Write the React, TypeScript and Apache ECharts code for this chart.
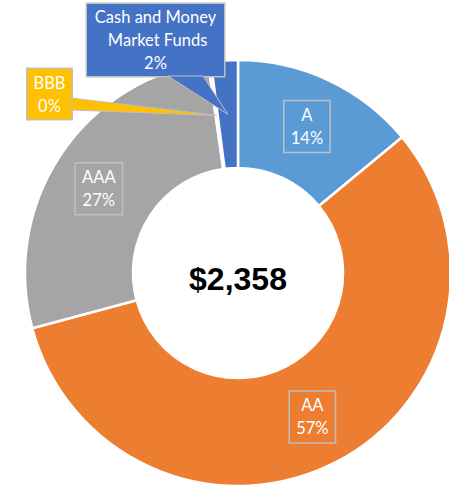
import React, { useEffect, useRef } from 'react';
import * as echarts from 'echarts';

const categories = ['A', 'AA', 'AAA', 'BBB', 'Cash and Money Market Funds'];
const values = [330, 1340, 635, 5, 48];
const colors = ['#5B9BD5', '#ED7D31', '#A5A5A5', '#FFC000', '#4472C4'];

const CX = 238;
const CY = 273;
const R0 = 105;
const R1 = 213;
const FONT = 'Lato';

export default function App() {
  const ref = useRef<HTMLDivElement>(null);
  useEffect(() => {
    const chart = echarts.init(ref.current!, null, { renderer: 'svg' });
    const total = values.reduce((a, b) => a + b, 0);
    const mids: number[] = [];
    let acc = 0;
    values.forEach((v) => {
      mids.push(((acc + v / 2) / total) * 2 * Math.PI);
      acc += v;
    });
    const rMid = (R0 + R1) / 2;
    const tip = (i: number) => [CX + rMid * Math.sin(mids[i]), CY - rMid * Math.cos(mids[i])];
    const bbbTip = tip(3);
    const cashTip = tip(4);

    const baseLabel = {
      show: true,
      position: 'inside',
      formatter: '{b}\n{d}%',
      color: '#FFFFFF',
      fontFamily: FONT,
      fontSize: 16.5,
      lineHeight: 23,
      align: 'center',
      borderColor: '#BFBFBF',
      borderWidth: 1.5,
      padding: [3, 7, 3, 7],
    };

    chart.setOption({
      animation: false,
      graphic: [
        {
          type: 'polygon',
          z: 100,
          shape: { points: [[71, 98], [71, 110], bbbTip] },
          style: { fill: '#FFC000', stroke: '#BFBFBF', lineWidth: 1 },
        },
        {
          type: 'polygon',
          z: 100,
          shape: { points: [[168, 76], [203, 76], cashTip] },
          style: { fill: '#4472C4', stroke: '#BFBFBF', lineWidth: 1 },
        },
        {
          type: 'text',
          z: 100,
          x: CX,
          y: 279,
          style: {
            text: '$' + total.toLocaleString('en-US'),
            align: 'center',
            verticalAlign: 'middle',
            fontFamily: 'Liberation Sans',
            fontWeight: 'bold',
            fontSize: 32,
            fill: '#000000',
          },
        },
      ],
      series: [
        {
          type: 'pie',
          center: [CX, CY],
          radius: [R0, R1],
          startAngle: 90,
          clockwise: true,
          percentPrecision: 0,
          avoidLabelOverlap: false,
          itemStyle: { borderColor: '#FFFFFF', borderWidth: 2.5 },
          label: baseLabel,
          labelLine: { show: false },
          emphasis: { disabled: true },
          labelLayout: (p: any) => {
            if (p.dataIndex === 2) return { dx: -4, dy: 5 };
            if (p.dataIndex === 3) return { x: 49.5, y: 94, align: 'center', verticalAlign: 'middle' };
            if (p.dataIndex === 4) return { x: 155.5, y: 40, align: 'center', verticalAlign: 'middle' };
            return {};
          },
          data: categories.map((name, i) => {
            const item: any = { name, value: values[i], itemStyle: { color: colors[i] } };
            if (i === 3) {
              item.label = { backgroundColor: '#FFC000', padding: [2, 6, 2, 6] };
            }
            if (i === 4) {
              item.label = {
                backgroundColor: '#4472C4',
                width: 125,
                overflow: 'break',
                padding: [2, 6, 1, 6],
              };
            }
            return item;
          }),
        },
      ],
    });
    return () => chart.dispose();
  }, []);
  return (
    <div
      ref={ref}
      style={{ position: 'absolute', left: 0, top: 0, width: 449, height: 489 }}
    />
  );
}
